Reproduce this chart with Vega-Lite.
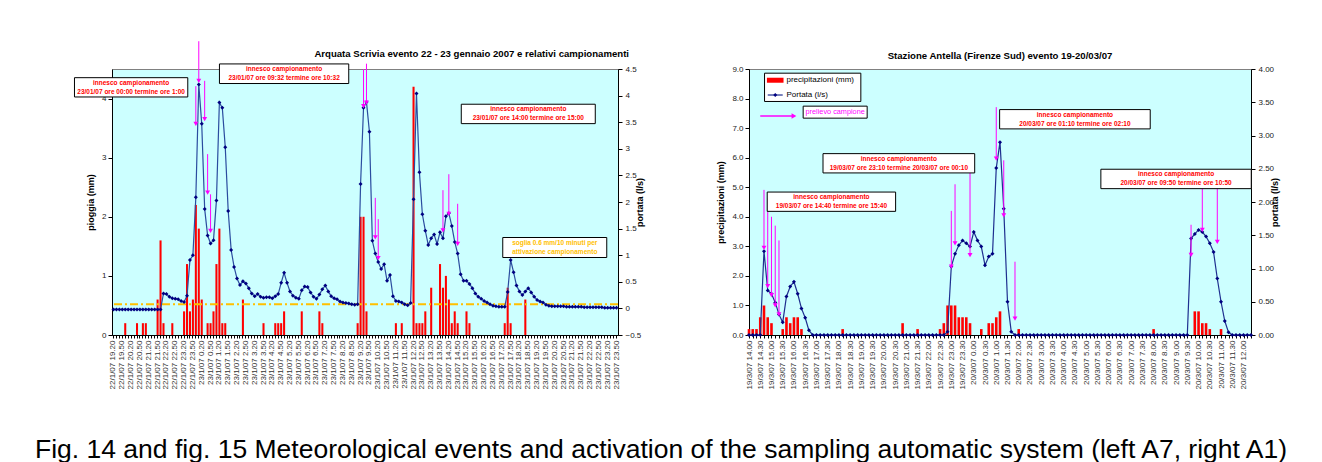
{
"$schema":"https://vega.github.io/schema/vega-lite/v6.json",
"background":"white",
"padding":{"left":33,"top":40,"right":0,"bottom":0},
"config":{
 "font":"Liberation Sans",
 "view":{"fill":"#CCFFFF","stroke":"#808080"},
 "axis":{"labelFont":"Liberation Sans","titleFont":"Liberation Sans","labelFontSize":8,"titleFontSize":9,"titleFontWeight":"bold","labelColor":"#222222","titleColor":"#000000","domainColor":"#000000","tickColor":"#000000","grid":false,"tickSize":4},
 "title":{"font":"Liberation Sans","fontSize":9.6,"fontWeight":"bold","color":"#000000"}
},
"title":{"text":"Fig. 14 and fig. 15 Meteorological events and activation of the sampling automatic system (left A7, right A1)","orient":"bottom","anchor":"middle","fontSize":26.5,"fontWeight":"normal","offset":48,"dx":-15},
"datasets":{
"arquata":[
{"t":"22/1/07 19.20","q":-0.02,"r":0},{"t":"22/1/07 19.30","q":-0.02,"r":0},{"t":"22/1/07 19.40","q":-0.02,"r":0},{"t":"22/1/07 19.50","q":-0.02,"r":0},
{"t":"22/1/07 20.00","q":-0.02,"r":0.2},{"t":"22/1/07 20.10","q":-0.02,"r":0},{"t":"22/1/07 20.20","q":-0.02,"r":0},{"t":"22/1/07 20.30","q":-0.02,"r":0},
{"t":"22/1/07 20.40","q":-0.02,"r":0.2},{"t":"22/1/07 20.50","q":-0.02,"r":0},{"t":"22/1/07 21.00","q":-0.02,"r":0.2},{"t":"22/1/07 21.10","q":-0.02,"r":0.2},
{"t":"22/1/07 21.20","q":-0.02,"r":0},{"t":"22/1/07 21.30","q":-0.02,"r":0},{"t":"22/1/07 21.40","q":-0.02,"r":0},{"t":"22/1/07 21.50","q":-0.02,"r":0.6},
{"t":"22/1/07 22.00","q":-0.02,"r":1.6},{"t":"22/1/07 22.10","q":0.28,"r":0.2},{"t":"22/1/07 22.20","q":0.27,"r":0},{"t":"22/1/07 22.30","q":0.22,"r":0},
{"t":"22/1/07 22.40","q":0.19,"r":0.2},{"t":"22/1/07 22.50","q":0.18,"r":0},{"t":"22/1/07 23.00","q":0.17,"r":0},{"t":"22/1/07 23.10","q":0.14,"r":0},
{"t":"22/1/07 23.20","q":0.12,"r":0.4},{"t":"22/1/07 23.30","q":0.24,"r":1.2},{"t":"22/1/07 23.40","q":0.91,"r":0.4},{"t":"22/1/07 23.50","q":1.00,"r":0.6},
{"t":"23/1/07 0.00","q":2.09,"r":2.2},{"t":"23/1/07 0.10","q":4.21,"r":1.8},{"t":"23/1/07 0.20","q":3.47,"r":0.6},{"t":"23/1/07 0.30","q":1.87,"r":0},
{"t":"23/1/07 0.40","q":1.37,"r":0.2},{"t":"23/1/07 0.50","q":1.22,"r":0.2},{"t":"23/1/07 1.00","q":1.28,"r":0.4},{"t":"23/1/07 1.10","q":2.03,"r":1.2},
{"t":"23/1/07 1.20","q":3.87,"r":1.8},{"t":"23/1/07 1.30","q":3.77,"r":0.2},{"t":"23/1/07 1.40","q":3.03,"r":0.2},{"t":"23/1/07 1.50","q":1.83,"r":0},
{"t":"23/1/07 2.00","q":1.10,"r":0},{"t":"23/1/07 2.10","q":0.78,"r":0},{"t":"23/1/07 2.20","q":0.56,"r":0},{"t":"23/1/07 2.30","q":0.44,"r":0},
{"t":"23/1/07 2.40","q":0.51,"r":0.6},{"t":"23/1/07 2.50","q":0.47,"r":0},{"t":"23/1/07 3.00","q":0.38,"r":0},{"t":"23/1/07 3.10","q":0.28,"r":0},
{"t":"23/1/07 3.20","q":0.23,"r":0},{"t":"23/1/07 3.30","q":0.27,"r":0},{"t":"23/1/07 3.40","q":0.22,"r":0},{"t":"23/1/07 3.50","q":0.20,"r":0.2},
{"t":"23/1/07 4.00","q":0.21,"r":0},{"t":"23/1/07 4.10","q":0.21,"r":0},{"t":"23/1/07 4.20","q":0.19,"r":0},{"t":"23/1/07 4.30","q":0.23,"r":0.2},
{"t":"23/1/07 4.40","q":0.27,"r":0.2},{"t":"23/1/07 4.50","q":0.48,"r":0.2},{"t":"23/1/07 5.00","q":0.67,"r":0.4},{"t":"23/1/07 5.10","q":0.48,"r":0},
{"t":"23/1/07 5.20","q":0.32,"r":0},{"t":"23/1/07 5.30","q":0.24,"r":0},{"t":"23/1/07 5.40","q":0.20,"r":0},{"t":"23/1/07 5.50","q":0.18,"r":0},
{"t":"23/1/07 6.00","q":0.34,"r":0.4},{"t":"23/1/07 6.10","q":0.41,"r":0},{"t":"23/1/07 6.20","q":0.40,"r":0},{"t":"23/1/07 6.30","q":0.30,"r":0},
{"t":"23/1/07 6.40","q":0.22,"r":0},{"t":"23/1/07 6.50","q":0.18,"r":0},{"t":"23/1/07 7.00","q":0.26,"r":0.4},{"t":"23/1/07 7.10","q":0.36,"r":0.2},
{"t":"23/1/07 7.20","q":0.43,"r":0},{"t":"23/1/07 7.30","q":0.32,"r":0},{"t":"23/1/07 7.40","q":0.23,"r":0},{"t":"23/1/07 7.50","q":0.19,"r":0},
{"t":"23/1/07 8.00","q":0.17,"r":0},{"t":"23/1/07 8.10","q":0.13,"r":0},{"t":"23/1/07 8.20","q":0.11,"r":0},{"t":"23/1/07 8.30","q":0.10,"r":0},
{"t":"23/1/07 8.40","q":0.09,"r":0},{"t":"23/1/07 8.50","q":0.08,"r":0},{"t":"23/1/07 9.00","q":0.07,"r":0},{"t":"23/1/07 9.10","q":0.08,"r":0.2},
{"t":"23/1/07 9.20","q":2.34,"r":2.0},{"t":"23/1/07 9.30","q":3.77,"r":2.0},{"t":"23/1/07 9.40","q":3.88,"r":0.4},{"t":"23/1/07 9.50","q":3.32,"r":0},
{"t":"23/1/07 10.00","q":1.27,"r":0},{"t":"23/1/07 10.10","q":1.03,"r":0},{"t":"23/1/07 10.20","q":0.87,"r":0},{"t":"23/1/07 10.30","q":0.74,"r":0},
{"t":"23/1/07 10.40","q":0.83,"r":0},{"t":"23/1/07 10.50","q":0.52,"r":0},{"t":"23/1/07 11.00","q":0.63,"r":0},{"t":"23/1/07 11.10","q":0.23,"r":0},
{"t":"23/1/07 11.20","q":0.14,"r":0.2},{"t":"23/1/07 11.30","q":0.13,"r":0},{"t":"23/1/07 11.40","q":0.11,"r":0.2},{"t":"23/1/07 11.50","q":0.08,"r":0},
{"t":"23/1/07 12.00","q":0.06,"r":0},{"t":"23/1/07 12.10","q":0.10,"r":0},{"t":"23/1/07 12.20","q":2.05,"r":4.2},{"t":"23/1/07 12.30","q":4.04,"r":0.2},
{"t":"23/1/07 12.40","q":2.56,"r":0.2},{"t":"23/1/07 12.50","q":1.77,"r":0.2},{"t":"23/1/07 13.00","q":1.46,"r":0.4},{"t":"23/1/07 13.10","q":1.19,"r":0},
{"t":"23/1/07 13.20","q":1.32,"r":0.8},{"t":"23/1/07 13.30","q":1.39,"r":0},{"t":"23/1/07 13.40","q":1.21,"r":0},{"t":"23/1/07 13.50","q":1.43,"r":1.2},
{"t":"23/1/07 14.00","q":1.32,"r":0.8},{"t":"23/1/07 14.10","q":1.73,"r":1.0},{"t":"23/1/07 14.20","q":1.79,"r":0.6},{"t":"23/1/07 14.30","q":1.55,"r":0.2},
{"t":"23/1/07 14.40","q":1.25,"r":0.4},{"t":"23/1/07 14.50","q":1.03,"r":0.2},{"t":"23/1/07 15.00","q":0.64,"r":0},{"t":"23/1/07 15.10","q":0.52,"r":0},
{"t":"23/1/07 15.20","q":0.52,"r":0.4},{"t":"23/1/07 15.30","q":0.46,"r":0.2},{"t":"23/1/07 15.40","q":0.38,"r":0},{"t":"23/1/07 15.50","q":0.28,"r":0},
{"t":"23/1/07 16.00","q":0.22,"r":0},{"t":"23/1/07 16.10","q":0.18,"r":0},{"t":"23/1/07 16.20","q":0.14,"r":0},{"t":"23/1/07 16.30","q":0.11,"r":0},
{"t":"23/1/07 16.40","q":0.08,"r":0},{"t":"23/1/07 16.50","q":0.05,"r":0},{"t":"23/1/07 17.00","q":0.04,"r":0},{"t":"23/1/07 17.10","q":0.03,"r":0},
{"t":"23/1/07 17.20","q":0.03,"r":0},{"t":"23/1/07 17.30","q":0.03,"r":0.2},{"t":"23/1/07 17.40","q":0.31,"r":0.8},{"t":"23/1/07 17.50","q":0.91,"r":0.2},
{"t":"23/1/07 18.00","q":0.68,"r":0},{"t":"23/1/07 18.10","q":0.43,"r":0},{"t":"23/1/07 18.20","q":0.32,"r":0},{"t":"23/1/07 18.30","q":0.25,"r":0},
{"t":"23/1/07 18.40","q":0.32,"r":0.6},{"t":"23/1/07 18.50","q":0.38,"r":0},{"t":"23/1/07 19.00","q":0.30,"r":0},{"t":"23/1/07 19.10","q":0.22,"r":0},
{"t":"23/1/07 19.20","q":0.16,"r":0},{"t":"23/1/07 19.30","q":0.13,"r":0},{"t":"23/1/07 19.40","q":0.11,"r":0},{"t":"23/1/07 19.50","q":0.07,"r":0},
{"t":"23/1/07 20.00","q":0.05,"r":0},{"t":"23/1/07 20.10","q":0.04,"r":0},{"t":"23/1/07 20.20","q":0.04,"r":0},{"t":"23/1/07 20.30","q":0.04,"r":0},
{"t":"23/1/07 20.40","q":0.04,"r":0},{"t":"23/1/07 20.50","q":0.04,"r":0},{"t":"23/1/07 21.00","q":0.03,"r":0},{"t":"23/1/07 21.10","q":0.03,"r":0},
{"t":"23/1/07 21.20","q":0.03,"r":0},{"t":"23/1/07 21.30","q":0.03,"r":0},{"t":"23/1/07 21.40","q":0.03,"r":0},{"t":"23/1/07 21.50","q":0.03,"r":0},
{"t":"23/1/07 22.00","q":0.02,"r":0},{"t":"23/1/07 22.10","q":0.02,"r":0},{"t":"23/1/07 22.20","q":0.02,"r":0},{"t":"23/1/07 22.30","q":0.02,"r":0},
{"t":"23/1/07 22.40","q":0.02,"r":0},{"t":"23/1/07 22.50","q":0.02,"r":0},{"t":"23/1/07 23.00","q":0.02,"r":0},{"t":"23/1/07 23.10","q":0.01,"r":0},
{"t":"23/1/07 23.20","q":0.01,"r":0},{"t":"23/1/07 23.30","q":0.01,"r":0},{"t":"23/1/07 23.40","q":0.01,"r":0},{"t":"23/1/07 23.50","q":0.01,"r":0}
],
"soglia":[{"y":0.52}],
"leftArrows":[
{"t":"23/1/07 0.00","y1":4.21,"y2":3.57},{"t":"23/1/07 0.10","y1":4.97,"y2":4.30},{"t":"23/1/07 0.30","y1":4.30,"y2":3.65},
{"t":"23/1/07 0.40","y1":3.06,"y2":2.41},{"t":"23/1/07 0.50","y1":2.38,"y2":1.76},
{"t":"23/1/07 9.30","y1":4.50,"y2":3.87},{"t":"23/1/07 9.40","y1":4.59,"y2":3.93},{"t":"23/1/07 10.10","y1":2.32,"y2":1.65},
{"t":"23/1/07 10.20","y1":1.96,"y2":1.30},
{"t":"23/1/07 14.00","y1":2.45,"y2":1.77},{"t":"23/1/07 14.20","y1":2.72,"y2":2.05},{"t":"23/1/07 14.50","y1":2.22,"y2":1.54}
],
"leftNotes":[
{"id":1,"t":"22/1/07 20.20","y":4.19,"label":"innesco campionamento\n23/01/07 ore 00:00  termine ore 1:00"},
{"id":2,"t":"23/1/07 5.00","y":4.42,"label":"innesco campionamento\n23/01/07 ore 09:32  termine ore 10:32"},
{"id":3,"t":"23/1/07 18.50","y":3.74,"label":"innesco campionamento\n23/01/07 ore 14:00  termine ore 15:00"}
],
"leftThreshold":[
{"t":"23/1/07 20.20","y":1.48,"label":"soglia 0.6 mm/10 minuti per\nattivazione campionamento"}
],
"antella":[
{"t":"19/3/07 14.00","q":0,"r":0.2},{"t":"19/3/07 14.10","q":0,"r":0.2},{"t":"19/3/07 14.20","q":0,"r":0.2},{"t":"19/3/07 14.30","q":0,"r":0.6},
{"t":"19/3/07 14.40","q":1.26,"r":1.0},{"t":"19/3/07 14.50","q":0.67,"r":0.6},{"t":"19/3/07 15.00","q":0.62,"r":0.4},{"t":"19/3/07 15.10","q":0.49,"r":0},
{"t":"19/3/07 15.20","q":0.31,"r":0},{"t":"19/3/07 15.30","q":0.19,"r":0.2},{"t":"19/3/07 15.40","q":0.58,"r":0.6},{"t":"19/3/07 15.50","q":0.73,"r":0.4},
{"t":"19/3/07 16.00","q":0.80,"r":0.6},{"t":"19/3/07 16.10","q":0.62,"r":0.6},{"t":"19/3/07 16.20","q":0.40,"r":0.2},{"t":"19/3/07 16.30","q":0.26,"r":0},
{"t":"19/3/07 16.40","q":0.07,"r":0},{"t":"19/3/07 16.50","q":0,"r":0},{"t":"19/3/07 17.00","q":0,"r":0},{"t":"19/3/07 17.10","q":0,"r":0},
{"t":"19/3/07 17.20","q":0,"r":0},{"t":"19/3/07 17.30","q":0,"r":0},{"t":"19/3/07 17.40","q":0,"r":0},{"t":"19/3/07 17.50","q":0,"r":0},
{"t":"19/3/07 18.00","q":0,"r":0},{"t":"19/3/07 18.10","q":0,"r":0.2},{"t":"19/3/07 18.20","q":0,"r":0},{"t":"19/3/07 18.30","q":0,"r":0},
{"t":"19/3/07 18.40","q":0,"r":0},{"t":"19/3/07 18.50","q":0,"r":0},{"t":"19/3/07 19.00","q":0,"r":0},{"t":"19/3/07 19.10","q":0,"r":0},
{"t":"19/3/07 19.20","q":0,"r":0},{"t":"19/3/07 19.30","q":0,"r":0},{"t":"19/3/07 19.40","q":0,"r":0},{"t":"19/3/07 19.50","q":0,"r":0},
{"t":"19/3/07 20.00","q":0,"r":0},{"t":"19/3/07 20.10","q":0,"r":0},{"t":"19/3/07 20.20","q":0,"r":0},{"t":"19/3/07 20.30","q":0,"r":0},
{"t":"19/3/07 20.40","q":0,"r":0},{"t":"19/3/07 20.50","q":0,"r":0.4},{"t":"19/3/07 21.00","q":0,"r":0},{"t":"19/3/07 21.10","q":0,"r":0},
{"t":"19/3/07 21.20","q":0,"r":0},{"t":"19/3/07 21.30","q":0,"r":0.2},{"t":"19/3/07 21.40","q":0,"r":0},{"t":"19/3/07 21.50","q":0,"r":0},
{"t":"19/3/07 22.00","q":0,"r":0},{"t":"19/3/07 22.10","q":0,"r":0},{"t":"19/3/07 22.20","q":0,"r":0},{"t":"19/3/07 22.30","q":0,"r":0.2},
{"t":"19/3/07 22.40","q":0,"r":0.4},{"t":"19/3/07 22.50","q":0.05,"r":1.0},{"t":"19/3/07 23.00","q":1.03,"r":1.0},{"t":"19/3/07 23.10","q":1.22,"r":1.0},
{"t":"19/3/07 23.20","q":1.35,"r":0.6},{"t":"19/3/07 23.30","q":1.42,"r":0.6},{"t":"19/3/07 23.40","q":1.38,"r":0.6},{"t":"19/3/07 23.50","q":1.33,"r":0.4},
{"t":"20/3/07 0.00","q":1.55,"r":0},{"t":"20/3/07 0.10","q":1.42,"r":0},{"t":"20/3/07 0.20","q":1.33,"r":0.2},{"t":"20/3/07 0.30","q":1.05,"r":0},
{"t":"20/3/07 0.40","q":1.18,"r":0.4},{"t":"20/3/07 0.50","q":1.22,"r":0.4},{"t":"20/3/07 1.00","q":2.51,"r":0.6},{"t":"20/3/07 1.10","q":2.90,"r":0.8},
{"t":"20/3/07 1.20","q":1.90,"r":0},{"t":"20/3/07 1.30","q":0.50,"r":0},{"t":"20/3/07 1.40","q":0.05,"r":0},{"t":"20/3/07 1.50","q":0,"r":0},
{"t":"20/3/07 2.00","q":0,"r":0.2},{"t":"20/3/07 2.10","q":0,"r":0},{"t":"20/3/07 2.20","q":0,"r":0},{"t":"20/3/07 2.30","q":0,"r":0},
{"t":"20/3/07 2.40","q":0,"r":0},{"t":"20/3/07 2.50","q":0,"r":0},{"t":"20/3/07 3.00","q":0,"r":0},{"t":"20/3/07 3.10","q":0,"r":0},
{"t":"20/3/07 3.20","q":0,"r":0},{"t":"20/3/07 3.30","q":0,"r":0},{"t":"20/3/07 3.40","q":0,"r":0},{"t":"20/3/07 3.50","q":0,"r":0},
{"t":"20/3/07 4.00","q":0,"r":0},{"t":"20/3/07 4.10","q":0,"r":0},{"t":"20/3/07 4.20","q":0,"r":0},{"t":"20/3/07 4.30","q":0,"r":0},
{"t":"20/3/07 4.40","q":0,"r":0},{"t":"20/3/07 4.50","q":0,"r":0},{"t":"20/3/07 5.00","q":0,"r":0},{"t":"20/3/07 5.10","q":0,"r":0},
{"t":"20/3/07 5.20","q":0,"r":0},{"t":"20/3/07 5.30","q":0,"r":0},{"t":"20/3/07 5.40","q":0,"r":0},{"t":"20/3/07 5.50","q":0,"r":0},
{"t":"20/3/07 6.00","q":0,"r":0},{"t":"20/3/07 6.10","q":0,"r":0},{"t":"20/3/07 6.20","q":0,"r":0},{"t":"20/3/07 6.30","q":0,"r":0},
{"t":"20/3/07 6.40","q":0,"r":0},{"t":"20/3/07 6.50","q":0,"r":0},{"t":"20/3/07 7.00","q":0,"r":0},{"t":"20/3/07 7.10","q":0,"r":0},
{"t":"20/3/07 7.20","q":0,"r":0},{"t":"20/3/07 7.30","q":0,"r":0},{"t":"20/3/07 7.40","q":0,"r":0},{"t":"20/3/07 7.50","q":0,"r":0},
{"t":"20/3/07 8.00","q":0,"r":0.2},{"t":"20/3/07 8.10","q":0,"r":0},{"t":"20/3/07 8.20","q":0,"r":0},{"t":"20/3/07 8.30","q":0,"r":0},
{"t":"20/3/07 8.40","q":0,"r":0},{"t":"20/3/07 8.50","q":0,"r":0},{"t":"20/3/07 9.00","q":0,"r":0},{"t":"20/3/07 9.10","q":0,"r":0},
{"t":"20/3/07 9.20","q":0,"r":0},{"t":"20/3/07 9.30","q":0,"r":0},{"t":"20/3/07 9.40","q":1.45,"r":0},{"t":"20/3/07 9.50","q":1.52,"r":0.8},
{"t":"20/3/07 10.00","q":1.58,"r":0.8},{"t":"20/3/07 10.10","q":1.55,"r":0.4},{"t":"20/3/07 10.20","q":1.48,"r":0.4},{"t":"20/3/07 10.30","q":1.38,"r":0.2},
{"t":"20/3/07 10.40","q":1.25,"r":0},{"t":"20/3/07 10.50","q":0.85,"r":0},{"t":"20/3/07 11.00","q":0.50,"r":0.2},{"t":"20/3/07 11.10","q":0.21,"r":0},
{"t":"20/3/07 11.20","q":0.04,"r":0},{"t":"20/3/07 11.30","q":0,"r":0},{"t":"20/3/07 11.40","q":0,"r":0},{"t":"20/3/07 11.50","q":0,"r":0},
{"t":"20/3/07 12.00","q":0,"r":0},{"t":"20/3/07 12.10","q":0,"r":0},{"t":"20/3/07 12.20","q":0,"r":0}
],
"rightArrows":[
{"t":"19/3/07 14.40","y1":4.91,"y2":2.95},{"t":"19/3/07 14.50","y1":4.62,"y2":1.65},{"t":"19/3/07 15.00","y1":4.0,"y2":1.35},
{"t":"19/3/07 15.10","y1":3.7,"y2":1.0},{"t":"19/3/07 15.20","y1":3.2,"y2":0.7},
{"t":"19/3/07 23.00","y1":4.2,"y2":2.31},{"t":"19/3/07 23.10","y1":5.1,"y2":3.1},{"t":"19/3/07 23.50","y1":5.65,"y2":2.7},
{"t":"20/3/07 1.00","y1":7.71,"y2":5.97},{"t":"20/3/07 1.20","y1":5.91,"y2":4.05},{"t":"20/3/07 1.50","y1":2.48,"y2":0.55},
{"t":"20/3/07 9.40","y1":3.73,"y2":2.71},{"t":"20/3/07 10.10","y1":4.95,"y2":3.56},{"t":"20/3/07 10.50","y1":4.95,"y2":3.15}
],
"rightNotes":[
{"id":1,"t":"19/3/07 17.40","y":4.51,"label":"innesco campionamento\n19/03/07 ore 14:40  termine ore 15:40"},
{"id":2,"t":"19/3/07 20.40","y":5.81,"label":"innesco campionamento\n19/03/07 ore 23:10  termine 20/03/07 ore 00:10"},
{"id":3,"t":"20/3/07 4.30","y":7.30,"label":"innesco campionamento\n20/03/07 ore 01:10  termine ore 02:10"},
{"id":4,"t":"20/3/07 9.00","y":5.28,"label":"innesco campionamento\n20/03/07 ore 09:50  termine ore 10:50"}
],
"rightLegend":[
{"item":"precipitazioni (mm)","t0":"19/3/07 14.50","tm":"19/3/07 15.10","t1":"19/3/07 15.30","tt":"19/3/07 15.40","y":8.62},
{"item":"Portata (l/s)","t0":"19/3/07 14.50","tm":"19/3/07 15.10","t1":"19/3/07 15.30","tt":"19/3/07 15.40","y":8.12}
],
"legendFrame":[{"t":"19/3/07 16.50","y":8.38}],
"prelievo":[{"t0":"19/3/07 14.30","t1":"19/3/07 16.00","y":7.41,"tc":"19/3/07 17.50","yc":7.54,"label":"prelievo campione"}]
},
"spacing":70,
"hconcat":[
{
"width":506,"height":266,
"title":{"text":"Arquata Scrivia evento 22 - 23 gennaio 2007 e relativi campionamenti","anchor":"end","frame":"group","dx":11,"offset":-18},
"resolve":{"scale":{"y":"independent"},"axis":{"y":"independent"}},
"layer":[
 {"layer":[
   {"data":{"name":"arquata"},"mark":{"type":"bar","color":"#FF0000"},
    "encoding":{
     "x":{"field":"t","type":"ordinal","sort":null,"scale":{"type":"band","paddingInner":0.3,"paddingOuter":0.15},
      "axis":{"title":null,"labelExpr":"substring(datum.label, length(datum.label) - 2) == '20' || substring(datum.label, length(datum.label) - 2) == '50' ? datum.label : ''","labelAngle":-90,"labelOverlap":false,"labelFontSize":8,"labelColor":"#333333","tickSize":3,"labelPadding":2}},
     "y":{"field":"r","type":"quantitative","scale":{"domain":[0,4.5],"nice":false,"zero":false},
      "axis":{"orient":"left","title":"pioggia (mm)","values":[0,0.5,1,1.5,2,2.5,3,3.5,4,4.5],"format":"~g","titlePadding":6,"labelPadding":2}}}},
   {"data":{"name":"soglia"},"mark":{"type":"rule","color":"#FFC000","strokeWidth":2,"strokeDash":[8,3,2,3]},
    "encoding":{"y":{"field":"y","type":"quantitative"}}}
  ]},
 {"data":{"name":"arquata"},
  "mark":{"type":"line","color":"#2B4C9F","strokeWidth":1.2,"point":{"shape":"diamond","filled":true,"color":"#000080","size":16,"opacity":1}},
  "encoding":{
   "x":{"field":"t","type":"ordinal","sort":null},
   "y":{"field":"q","type":"quantitative","scale":{"domain":[-0.5,4.5],"nice":false,"zero":false},
    "axis":{"orient":"right","title":"portata (l/s)","titleAngle":270,"values":[-0.5,0,0.5,1,1.5,2,2.5,3,3.5,4,4.5],"format":"~g","titlePadding":4,"labelPadding":3}}}},
 {"layer":[
   {"data":{"name":"leftArrows"},"mark":{"type":"rule","color":"#FF00FF","strokeWidth":1},
    "encoding":{"x":{"field":"t","type":"ordinal","sort":null},
     "y":{"field":"y1","type":"quantitative","scale":{"domain":[0,4.5],"nice":false,"zero":false},"axis":null},"y2":{"field":"y2"}}},
   {"data":{"name":"leftArrows"},"mark":{"type":"point","shape":"triangle-down","filled":true,"color":"#FF00FF","size":24,"opacity":1},
    "encoding":{"x":{"field":"t","type":"ordinal","sort":null},
     "y":{"field":"y2","type":"quantitative","scale":{"domain":[0,4.5],"nice":false,"zero":false},"axis":null}}},
   {"data":{"name":"leftNotes"},"transform":[{"filter":"datum.id == 1"}],
    "mark":{"type":"point","shape":"M-1,-0.1703L1,-0.1703L1,0.1703L-1,0.1703Z","size":12837,"filled":true,"fill":"#FFFFFF","stroke":"#000000","strokeWidth":1,"opacity":1},
    "encoding":{"x":{"field":"t","type":"ordinal","sort":null},
     "y":{"field":"y","type":"quantitative","scale":{"domain":[0,4.5],"nice":false,"zero":false},"axis":null}}},
   {"data":{"name":"leftNotes"},"transform":[{"filter":"datum.id == 2"}],
    "mark":{"type":"point","shape":"M-1,-0.1516L1,-0.1516L1,0.1516L-1,0.1516Z","size":16718,"filled":true,"fill":"#FFFFFF","stroke":"#000000","strokeWidth":1,"opacity":1},
    "encoding":{"x":{"field":"t","type":"ordinal","sort":null},
     "y":{"field":"y","type":"quantitative","scale":{"domain":[0,4.5],"nice":false,"zero":false},"axis":null}}},
   {"data":{"name":"leftNotes"},"transform":[{"filter":"datum.id == 3"}],
    "mark":{"type":"point","shape":"M-1,-0.1448L1,-0.1448L1,0.1448L-1,0.1448Z","size":17956,"filled":true,"fill":"#FFFFFF","stroke":"#000000","strokeWidth":1,"opacity":1},
    "encoding":{"x":{"field":"t","type":"ordinal","sort":null},
     "y":{"field":"y","type":"quantitative","scale":{"domain":[0,4.5],"nice":false,"zero":false},"axis":null}}},
   {"data":{"name":"leftThreshold"},
    "mark":{"type":"point","shape":"M-1,-0.1923L1,-0.1923L1,0.1923L-1,0.1923Z","size":10816,"filled":true,"fill":"#FFFFFF","stroke":"#000000","strokeWidth":1,"opacity":1},
    "encoding":{"x":{"field":"t","type":"ordinal","sort":null},
     "y":{"field":"y","type":"quantitative","scale":{"domain":[0,4.5],"nice":false,"zero":false},"axis":null}}},
   {"data":{"name":"leftNotes"},
    "mark":{"type":"text","font":"Liberation Sans","fontSize":6.5,"fontWeight":"bold","color":"#FF0000","lineBreak":"\n","lineHeight":9,"align":"center","baseline":"middle","dy":-4.5},
    "encoding":{"x":{"field":"t","type":"ordinal","sort":null},
     "y":{"field":"y","type":"quantitative","scale":{"domain":[0,4.5],"nice":false,"zero":false},"axis":null},"text":{"field":"label"}}},
   {"data":{"name":"leftThreshold"},
    "mark":{"type":"text","font":"Liberation Sans","fontSize":6.5,"fontWeight":"bold","color":"#FFC000","lineBreak":"\n","lineHeight":9,"align":"center","baseline":"middle","dy":-4.5},
    "encoding":{"x":{"field":"t","type":"ordinal","sort":null},
     "y":{"field":"y","type":"quantitative","scale":{"domain":[0,4.5],"nice":false,"zero":false},"axis":null},"text":{"field":"label"}}}
 ]}
]
},
{
"width":502,"height":266,
"title":{"text":"Stazione Antella (Firenze Sud) evento 19-20/03/07","anchor":"middle","frame":"group","offset":4},
"resolve":{"scale":{"y":"independent"},"axis":{"y":"independent"}},
"layer":[
 {"data":{"name":"antella"},"mark":{"type":"bar","color":"#FF0000","size":2.6},
  "encoding":{
   "x":{"field":"t","type":"ordinal","sort":null,"scale":{"type":"point","padding":0},
    "axis":{"title":null,"labelExpr":"substring(datum.label, length(datum.label) - 2) == '00' || substring(datum.label, length(datum.label) - 2) == '30' ? datum.label : ''","labelAngle":-90,"labelOverlap":false,"labelFontSize":8,"labelColor":"#333333","tickSize":3,"labelPadding":2}},
   "y":{"field":"r","type":"quantitative","scale":{"domain":[0,9],"nice":false,"zero":false},
    "axis":{"orient":"left","title":"precipitazioni (mm)","values":[0,1,2,3,4,5,6,7,8,9],"format":".1f","titlePadding":6,"labelPadding":2}}}},
 {"data":{"name":"antella"},
  "mark":{"type":"line","color":"#1F2F8F","strokeWidth":1.2,"point":{"shape":"diamond","filled":true,"color":"#000080","size":16,"opacity":1}},
  "encoding":{
   "x":{"field":"t","type":"ordinal","sort":null},
   "y":{"field":"q","type":"quantitative","scale":{"domain":[0,4],"nice":false,"zero":false},
    "axis":{"orient":"right","title":"portata (l/s)","titleAngle":270,"values":[0,0.5,1,1.5,2,2.5,3,3.5,4],"format":".2f","titlePadding":6,"labelPadding":3}}}},
 {"layer":[
   {"data":{"name":"rightArrows"},"mark":{"type":"rule","color":"#FF00FF","strokeWidth":1},
    "encoding":{"x":{"field":"t","type":"ordinal","sort":null},
     "y":{"field":"y1","type":"quantitative","scale":{"domain":[0,9],"nice":false,"zero":false},"axis":null},"y2":{"field":"y2"}}},
   {"data":{"name":"rightArrows"},"mark":{"type":"point","shape":"triangle-down","filled":true,"color":"#FF00FF","size":24,"opacity":1},
    "encoding":{"x":{"field":"t","type":"ordinal","sort":null},
     "y":{"field":"y2","type":"quantitative","scale":{"domain":[0,9],"nice":false,"zero":false},"axis":null}}},
   {"data":{"name":"rightNotes"},"transform":[{"filter":"datum.id == 1"}],
    "mark":{"type":"point","shape":"M-1,-0.1503L1,-0.1503L1,0.1503L-1,0.1503Z","size":16487,"filled":true,"fill":"#FFFFFF","stroke":"#000000","strokeWidth":1,"opacity":1},
    "encoding":{"x":{"field":"t","type":"ordinal","sort":null},
     "y":{"field":"y","type":"quantitative","scale":{"domain":[0,9],"nice":false,"zero":false},"axis":null}}},
   {"data":{"name":"rightNotes"},"transform":[{"filter":"datum.id == 2"}],
    "mark":{"type":"point","shape":"M-1,-0.1272L1,-0.1272L1,0.1272L-1,0.1272Z","size":23013,"filled":true,"fill":"#FFFFFF","stroke":"#000000","strokeWidth":1,"opacity":1},
    "encoding":{"x":{"field":"t","type":"ordinal","sort":null},
     "y":{"field":"y","type":"quantitative","scale":{"domain":[0,9],"nice":false,"zero":false},"axis":null}}},
   {"data":{"name":"rightNotes"},"transform":[{"filter":"datum.id == 3"}],
    "mark":{"type":"point","shape":"M-1,-0.1282L1,-0.1282L1,0.1282L-1,0.1282Z","size":22680,"filled":true,"fill":"#FFFFFF","stroke":"#000000","strokeWidth":1,"opacity":1},
    "encoding":{"x":{"field":"t","type":"ordinal","sort":null},
     "y":{"field":"y","type":"quantitative","scale":{"domain":[0,9],"nice":false,"zero":false},"axis":null}}},
   {"data":{"name":"rightNotes"},"transform":[{"filter":"datum.id == 4"}],
    "mark":{"type":"point","shape":"M-1,-0.1290L1,-0.1290L1,0.1290L-1,0.1290Z","size":22620,"filled":true,"fill":"#FFFFFF","stroke":"#000000","strokeWidth":1,"opacity":1},
    "encoding":{"x":{"field":"t","type":"ordinal","sort":null},
     "y":{"field":"y","type":"quantitative","scale":{"domain":[0,9],"nice":false,"zero":false},"axis":null}}},
   {"data":{"name":"legendFrame"},
    "mark":{"type":"point","shape":"M-1,-0.2939L1,-0.2939L1,0.2939L-1,0.2939Z","size":9274,"filled":true,"fill":"#FFFFFF","stroke":"#000000","strokeWidth":1,"opacity":1},
    "encoding":{"x":{"field":"t","type":"ordinal","sort":null},
     "y":{"field":"y","type":"quantitative","scale":{"domain":[0,9],"nice":false,"zero":false},"axis":null}}},
   {"data":{"name":"prelievo"},
    "mark":{"type":"point","shape":"M-1,-0.1875L1,-0.1875L1,0.1875L-1,0.1875Z","size":4096,"filled":true,"fill":"#FFFFFF","stroke":"#000000","strokeWidth":1,"opacity":1},
    "encoding":{"x":{"field":"tc","type":"ordinal","sort":null},
     "y":{"field":"yc","type":"quantitative","scale":{"domain":[0,9],"nice":false,"zero":false},"axis":null}}},
   {"data":{"name":"prelievo"},"mark":{"type":"rule","color":"#FF00FF","strokeWidth":1.5},
    "encoding":{"x":{"field":"t0","type":"ordinal","sort":null},"x2":{"field":"t1"},
     "y":{"field":"y","type":"quantitative","scale":{"domain":[0,9],"nice":false,"zero":false},"axis":null}}},
   {"data":{"name":"prelievo"},"mark":{"type":"point","shape":"triangle-right","filled":true,"color":"#FF00FF","size":30,"opacity":1},
    "encoding":{"x":{"field":"t1","type":"ordinal","sort":null},
     "y":{"field":"y","type":"quantitative","scale":{"domain":[0,9],"nice":false,"zero":false},"axis":null}}},
   {"data":{"name":"prelievo"},"mark":{"type":"text","font":"Liberation Sans","fontSize":7.3,"color":"#FF00FF","align":"center","baseline":"middle"},
    "encoding":{"x":{"field":"tc","type":"ordinal","sort":null},
     "y":{"field":"yc","type":"quantitative","scale":{"domain":[0,9],"nice":false,"zero":false},"axis":null},"text":{"field":"label"}}},
   {"data":{"name":"rightLegend"},"transform":[{"filter":"datum.item == 'precipitazioni (mm)'"}],
    "mark":{"type":"point","shape":"M-1,-0.301L1,-0.301L1,0.301L-1,0.301Z","size":276,"filled":true,"color":"#FF0000","opacity":1},
    "encoding":{"x":{"field":"tm","type":"ordinal","sort":null},
     "y":{"field":"y","type":"quantitative","scale":{"domain":[0,9],"nice":false,"zero":false},"axis":null}}},
   {"data":{"name":"rightLegend"},"transform":[{"filter":"datum.item == 'Portata (l/s)'"}],
    "mark":{"type":"rule","color":"#1F2F8F","strokeWidth":1.2},
    "encoding":{"x":{"field":"t0","type":"ordinal","sort":null},"x2":{"field":"t1"},
     "y":{"field":"y","type":"quantitative","scale":{"domain":[0,9],"nice":false,"zero":false},"axis":null}}},
   {"data":{"name":"rightLegend"},"transform":[{"filter":"datum.item == 'Portata (l/s)'"}],
    "mark":{"type":"point","shape":"diamond","filled":true,"color":"#000080","size":16,"opacity":1},
    "encoding":{"x":{"field":"tm","type":"ordinal","sort":null},
     "y":{"field":"y","type":"quantitative","scale":{"domain":[0,9],"nice":false,"zero":false},"axis":null}}},
   {"data":{"name":"rightLegend"},
    "mark":{"type":"text","font":"Liberation Sans","fontSize":8,"color":"#000000","align":"left","baseline":"middle"},
    "encoding":{"x":{"field":"tt","type":"ordinal","sort":null},
     "y":{"field":"y","type":"quantitative","scale":{"domain":[0,9],"nice":false,"zero":false},"axis":null},"text":{"field":"item"}}},
   {"data":{"name":"rightNotes"},
    "mark":{"type":"text","font":"Liberation Sans","fontSize":6.5,"fontWeight":"bold","color":"#FF0000","lineBreak":"\n","lineHeight":9,"align":"center","baseline":"middle","dy":-4.5},
    "encoding":{"x":{"field":"t","type":"ordinal","sort":null},
     "y":{"field":"y","type":"quantitative","scale":{"domain":[0,9],"nice":false,"zero":false},"axis":null},"text":{"field":"label"}}}
 ]}
]
}
]
}
